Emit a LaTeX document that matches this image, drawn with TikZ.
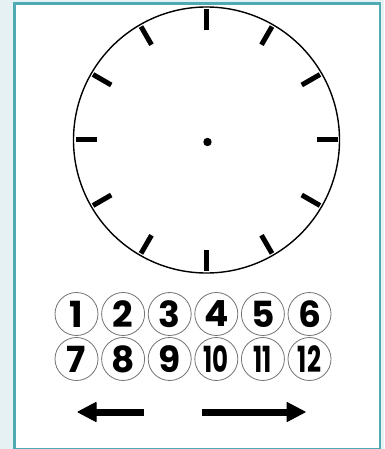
\documentclass[tikz,border=0pt]{standalone}
\usepackage{fontspec}
\usetikzlibrary{calc}
\newfontfamily\numfont{Poppins}[UprightFont=*-Bold]
\definecolor{bgout}{HTML}{E6F1F3}
\definecolor{frameteal}{HTML}{4FAAB3}
\tikzset{
  tick/.style={line width=5pt, line cap=butt},
  numcirc/.style={circle, draw=black!55, line width=0.8pt, minimum size=43pt, inner sep=0pt, font=\numfont\fontsize{36}{36}\selectfont},
  arrowshape/.style={fill=black, draw=black, line width=1pt, line join=round}
}
\begin{document}
\begin{tikzpicture}[x=1pt,y=-1pt]
\useasboundingbox (0,0) rectangle (384,449);
\fill[bgout] (0,0) rectangle (384,449);
\draw[frameteal, line width=2.5pt, fill=white] (14.5,3.5) rectangle (380,449.5);
% clock
\coordinate (c) at (206.5,140);
\node[circle, draw=black, line width=1.4pt, minimum size=266pt, inner sep=0pt] (clock) at (c) {};
\foreach \a in {0,30,...,330}{
  \draw[tick] ($(c)+(\a:110)$) -- ($(c)+(\a:131)$);
}
\fill (207.5,142) circle (4.2pt);
% numbers
\foreach \n [count=\i from 0] in {1,2,3,4,5,6}{
  \node[numcirc] (n\n) at (76.5+46.6*\i,314) {\n};
}
\foreach \n [count=\i from 0] in {7,8,9}{
  \node[numcirc] (n\n) at (76.5+46.6*\i,359) {\n};
}
\foreach \n [count=\i from 3] in {10,11,12}{
  \node[numcirc] (n\n) at (76.5+46.6*\i,359) {\scalebox{0.68}[1]{\n}};
}
% arrows
\coordinate (la) at (144,412);
\coordinate (ra) at (202,412);
\fill[black] (88,408.5) rectangle (la |- 0,415.5);
\filldraw[arrowshape] (78,412) -- (96,402.5) -- (96,421.5) -- cycle;
\fill[black] (ra |- 0,408.5) rectangle (292,415.5);
\filldraw[arrowshape] (305,412) -- (287,402.5) -- (287,421.5) -- cycle;
\end{tikzpicture}
\end{document}
